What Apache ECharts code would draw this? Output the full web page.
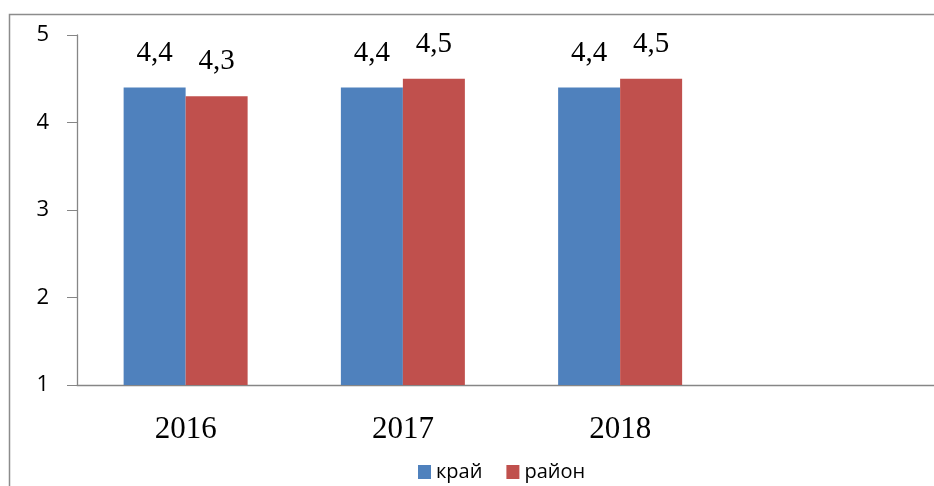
<!DOCTYPE html>
<html><head><meta charset="utf-8">
<script src="https://cdn.jsdelivr.net/npm/echarts@6/dist/echarts.min.js"></script>
<style>html,body{margin:0;padding:0;background:#fff}#c{width:934px;height:486px}</style>
</head><body><div id="c"></div>
<script>
var categories = ['2016', '2017', '2018', ''];
var kraiValues = [4.4, 4.4, 4.4, null];
var raionValues = [4.3, 4.5, 4.5, null];
var seriesNames = ['край', 'район'];
var yTicks = [1, 2, 3, 4, 5];

var chart = echarts.init(document.getElementById('c'));
function fmt(p){ return p.value == null ? '' : String(p.value).replace('.', ','); }
var labelStyle = {show:true, position:'top', distance:20, formatter:fmt,
  fontFamily:'Liberation Serif', fontSize:29, color:'#000'};
chart.setOption({
  animation:false,
  graphic:[{type:'rect', shape:{x:9.5, y:14.5, width:1000, height:1000},
    style:{fill:'none', stroke:'#8c8c8c', lineWidth:1.5}, silent:true}],
  grid:{left:77, top:35, bottom:101, width:869, outerBoundsMode:'none', containLabel:false},
  legend:{top:457, left:413, itemWidth:13, itemHeight:14, itemGap:24,
    icon:'rect', textStyle:{fontFamily:'Open Sans', fontSize:20, color:'#000'},
    data:seriesNames},
  xAxis:{type:'category', data:categories,
    axisLine:{lineStyle:{color:'#868686', width:1.3}},
    axisTick:{length:12, lineStyle:{color:'#868686'}},
    axisLabel:{margin:29, fontFamily:'Liberation Serif', fontSize:31, color:'#000'}},
  yAxis:{type:'value', min:yTicks[0], max:yTicks[yTicks.length-1], interval:1,
    splitLine:{show:false},
    axisLine:{show:true, lineStyle:{color:'#868686', width:1.3}},
    axisTick:{show:true, length:10, lineStyle:{color:'#868686'}},
    axisLabel:{margin:28, fontFamily:'Open Sans', fontSize:22, color:'#000'}},
  series:[
    {name:seriesNames[0], type:'bar', data:kraiValues, barWidth:62, barGap:'0%',
     itemStyle:{color:'#4F81BD'}, label:labelStyle},
    {name:seriesNames[1], type:'bar', data:raionValues, barWidth:62, barGap:'0%',
     itemStyle:{color:'#C0504D'}, label:labelStyle}
  ]
});
</script></body></html>
